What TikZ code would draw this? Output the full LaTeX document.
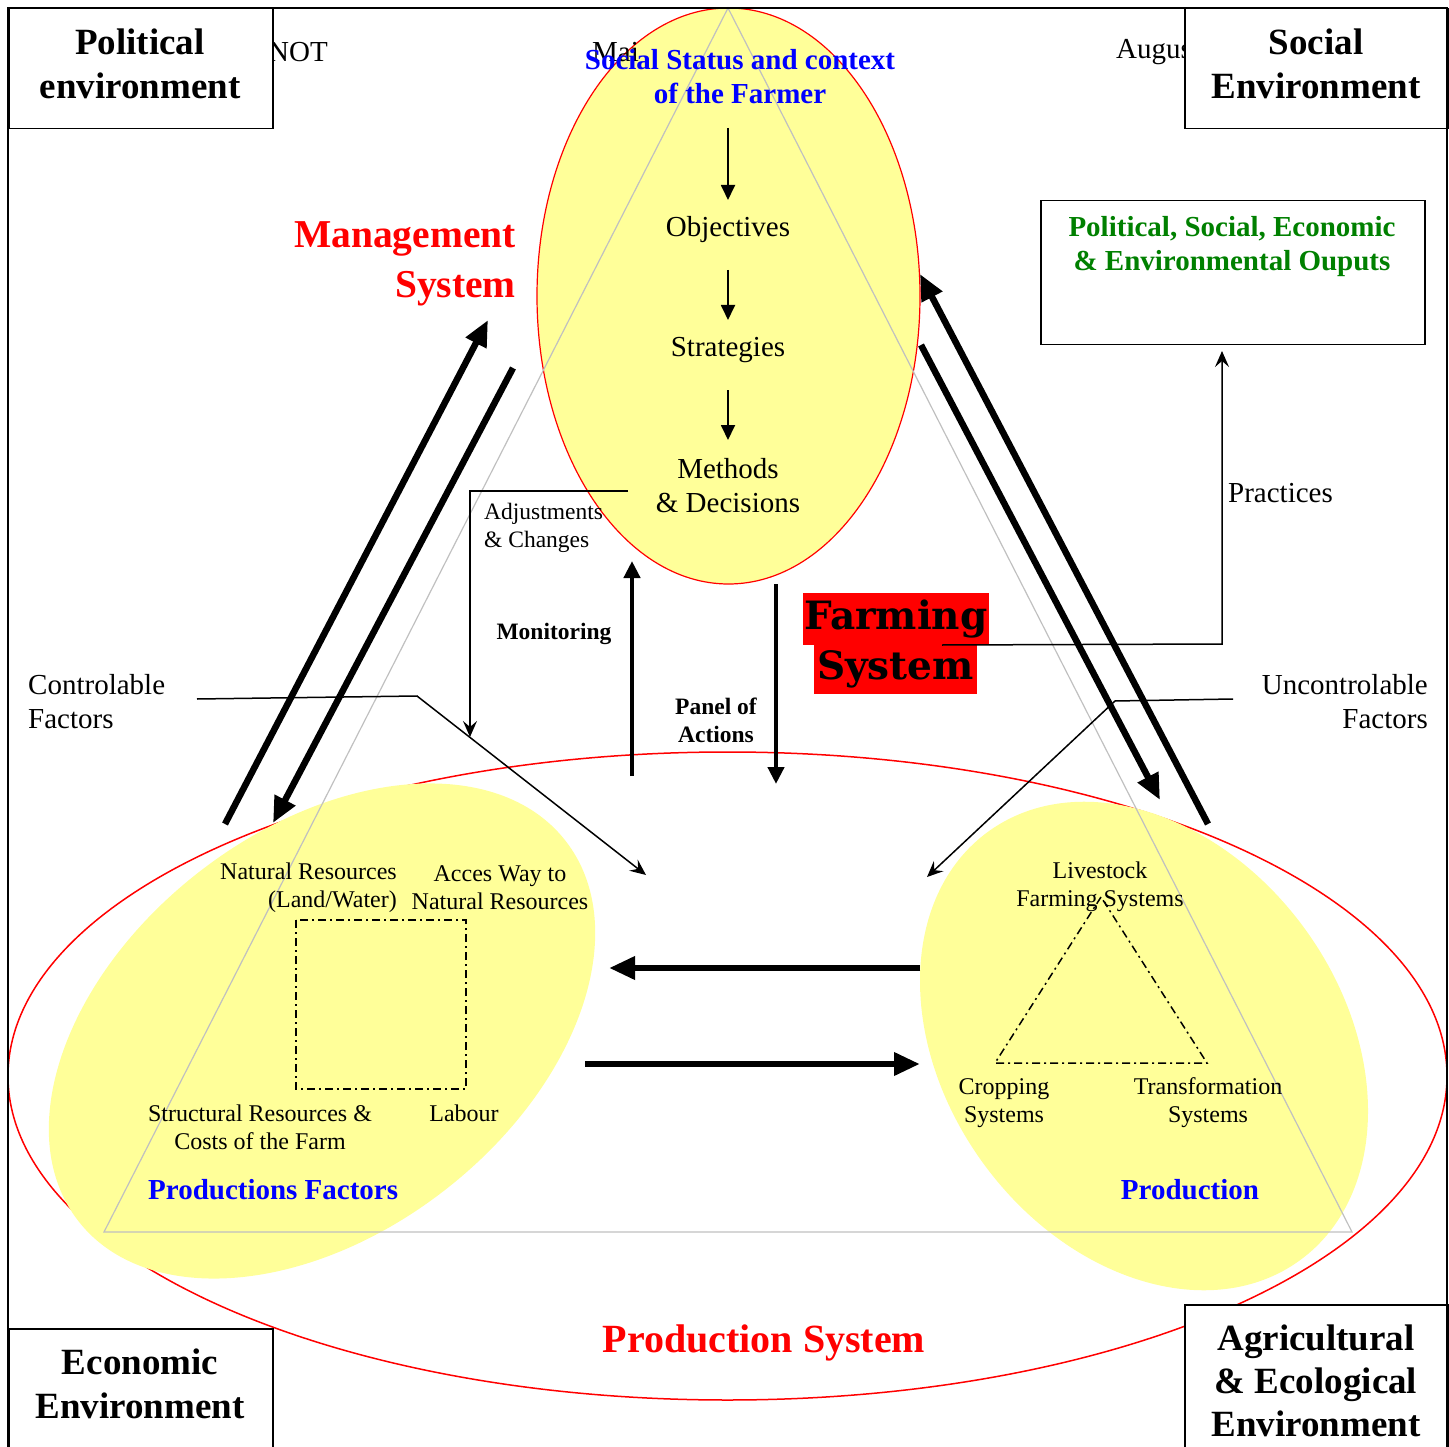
\documentclass[tikz,border=0pt]{standalone}
\usepackage{fontspec}
\setmainfont{Liberation Serif}
\newfontfamily\slabfont{DejaVu Serif}
\usetikzlibrary{arrows.meta,shapes.geometric}
\definecolor{paleyellow}{RGB}{255,255,153}
\definecolor{outgreen}{RGB}{0,128,0}
\definecolor{trigray}{RGB}{192,192,192}

\begin{document}
\begin{tikzpicture}[x=1pt, y=-1pt,
    norm/.style={font=\fontsize{29}{34}\selectfont, inner sep=0pt, align=center},
    smalltxt/.style={font=\fontsize{24}{28}\selectfont, inner sep=0pt, align=center},
    smallbold/.style={font=\bfseries\fontsize{23.5}{28}\selectfont, inner sep=0pt, align=center},
    envbox/.style={draw, line width=1.5pt, fill=white, inner sep=0pt, anchor=north west},
    envtxt/.style={font=\bfseries\fontsize{37}{44}\selectfont, inner sep=0pt, align=center},
    bluetxt/.style={font=\bfseries\fontsize{29}{34}\selectfont, text=blue, inner sep=0pt, align=center},
    blob/.style={ellipse, fill=paleyellow, inner sep=0pt},
    bigarrow/.style={line width=6.5pt, -{Triangle[length=26pt,width=22pt]}},
    midarrow/.style={line width=4.5pt, -{Triangle[length=17pt,width=16pt]}},
    steparrow/.style={line width=1.8pt, -{Triangle[length=15pt,width=14pt]}},
    leader/.style={line width=1.5pt, -{Stealth[length=16pt,width=14pt,inset=6pt]}},
    dashdot/.style={line width=1.5pt, dash pattern=on 8pt off 4pt on 2pt off 4pt},
    redbox/.style={fill=red, inner sep=0pt, font=\slabfont\bfseries\fontsize{39}{40}\selectfont}]

\useasboundingbox (0,0) rectangle (1449,1447);

\node[ellipse, draw=red, line width=1.5pt, minimum width=1439, minimum height=648, inner sep=0pt] (prodsys) at (727.5,1076) {};
\node[blob, minimum width=618, minimum height=402, rotate=38] (factors) at (322,1031) {};
\node[blob, minimum width=398, minimum height=530, rotate=36] (production) at (1144,1046) {};
\node[blob, draw=red, line width=1.2pt, minimum width=383, minimum height=576] (mgmtsys) at (728.5,296) {};

\coordinate (apex) at (728,8);
\coordinate (lcorner) at (104,1232);
\coordinate (rcorner) at (1352,1232);
\draw[trigray, line width=1.2pt] (apex) -- (lcorner) -- (rcorner) -- cycle;

\draw[dashdot] (296,920) rectangle (466,1089);
\draw[dashdot] (1101,897) -- (995,1063) -- (1207,1063) -- cycle;

\node[norm, anchor=west] (mai) at (592,52) {Mai};
\node[bluetxt] (status) at (740,77) {Social Status and context\\of the Farmer};
\node[norm] (obj) at (728,230) {Objectives};
\node[norm] (strat) at (728,350) {Strategies};
\node[norm] (meth) at (728,486) {Methods\\\& Decisions};

\coordinate (s1) at (728,128); \coordinate (o1) at (728,200);
\coordinate (o2) at (728,270); \coordinate (t1) at (728,320);
\coordinate (t2) at (728,390); \coordinate (m1) at (728,440);
\draw[steparrow] (s1) -- (o1);
\draw[steparrow] (o2) -- (t1);
\draw[steparrow] (t2) -- (m1);

\coordinate (fl1) at (225,824); \coordinate (ml1) at (488,320);
\coordinate (ml2) at (513,368); \coordinate (fl2) at (273,823);
\coordinate (pr1) at (1208,824); \coordinate (mr1) at (920,274);
\coordinate (mr2) at (921,345); \coordinate (pr2) at (1160,800);
\coordinate (pe1) at (920,968); \coordinate (fe1) at (609,968);
\coordinate (fe2) at (585,1064); \coordinate (pe2) at (920,1064);
\draw[bigarrow] (fl1) -- (ml1);
\draw[bigarrow] (ml2) -- (fl2);
\draw[bigarrow] (pr1) -- (mr1);
\draw[bigarrow] (mr2) -- (pr2);
\draw[bigarrow] (pe1) -- (fe1);
\draw[bigarrow] (fe2) -- (pe2);

\coordinate (mon1) at (632,776); \coordinate (mon2) at (632,561);
\coordinate (pan1) at (776,584); \coordinate (pan2) at (776,784);
\draw[midarrow] (mon1) -- (mon2);
\draw[midarrow] (pan1) -- (pan2);

\coordinate (adj0) at (628,491); \coordinate (adj1) at (470,491); \coordinate (adj2) at (470,737);
\coordinate (cf0) at (197,699); \coordinate (cf1) at (417,696); \coordinate (cf2) at (646,875);
\coordinate (uf0) at (1233,699); \coordinate (uf1) at (1115,701); \coordinate (uf2) at (927,877);
\draw[leader] (adj0) -- (adj1) -- (adj2);
\draw[leader] (cf0) -- (cf1) -- (cf2);
\draw[leader] (uf0) -- (uf1) -- (uf2);

\node[font=\bfseries\fontsize{39.5}{50}\selectfont, text=red, inner sep=0pt, align=right, anchor=east] (mgmtlbl) at (516,264) {Management\\System};
\node[smalltxt, font=\fontsize{23.5}{28}\selectfont, align=left, anchor=west] (adjust) at (484,528) {Adjustments\\\& Changes};
\node[smallbold] (monitor) at (554,634) {Monitoring};
\node[smallbold] (panel) at (716,720) {Panel of\\Actions};
\node[norm, align=left, anchor=west] (ctrl) at (28,702) {Controlable\\Factors};
\node[norm, align=right, anchor=east] (unctrl) at (1428,702) {Uncontrolable\\Factors};
\node[norm, anchor=west] (practice) at (1228,493) {Practices};

\node[redbox, minimum width=186, minimum height=52] (farming) at (896,619) {Farming};
\node[redbox, minimum width=163, minimum height=49] (fsystem) at (895.5,669.5) {System};

\node[draw, line width=1.5pt, minimum width=384, minimum height=144, inner sep=0pt, anchor=north west] (outbox) at (1040,200) {};
\node[bluetxt, text=outgreen] (outtxt) at (1232,247) {Political, Social, Economic\\\& Environmental Ouputs};
\coordinate (pp0) at (942,645); \coordinate (pp1) at (1222,644); \coordinate (pp2) at (1222,351);
\draw[leader] (pp0) -- (pp1) -- (pp2);

\node[smalltxt, align=right, anchor=east] (natres) at (397,888) {Natural Resources\\(Land/Water)};
\node[smalltxt] (access) at (500,888) {Acces Way to\\Natural Resources};
\node[smalltxt] (struct) at (260,1127) {Structural Resources \&\\Costs of the Farm};
\node[smalltxt] (labour) at (464,1113) {Labour};
\node[bluetxt, font=\bfseries\fontsize{29}{32}\selectfont, anchor=west] (pfact) at (148,1190) {Productions Factors};

\node[smalltxt] (livestock) at (1100,887) {Livestock\\Farming Systems};
\node[smalltxt] (cropping) at (1004,1103) {Cropping\\Systems};
\node[smalltxt] (transf) at (1208,1103) {Transformation\\Systems};
\node[bluetxt, font=\bfseries\fontsize{29}{32}\selectfont] (prodlbl) at (1190,1190) {Production};

\node[font=\bfseries\fontsize{40}{44}\selectfont, text=red, inner sep=0pt] (prodsyslbl) at (764,1343) {Production System};

\node[norm, anchor=west] (notxt) at (268,52) {NOT};
\node[norm, anchor=west] (augtxt) at (1116,52) {Augus};

\node[envbox, minimum width=264, minimum height=120] (polbox) at (8,8) {};
\node[envtxt] (poltxt) at (140,64) {Political\\environment};
\node[envbox, minimum width=264, minimum height=120] (socbox) at (1184,8) {};
\node[envtxt] (soctxt) at (1316,64) {Social\\Environment};
\node[envbox, minimum width=264, minimum height=130] (ecobox) at (8,1328) {};
\node[envtxt] (ecotxt) at (140,1384) {Economic\\Environment};
\node[envbox, minimum width=264, minimum height=150] (agrbox) at (1184,1304) {};
\node[envtxt, font=\bfseries\fontsize{37}{43}\selectfont] (agrtxt) at (1316,1381) {Agricultural\\\& Ecological\\Environment};

\draw[line width=1.8pt] (8,1460) -- (8,8) -- (1447,8) -- (1447,1460);
\end{tikzpicture}
\end{document}
